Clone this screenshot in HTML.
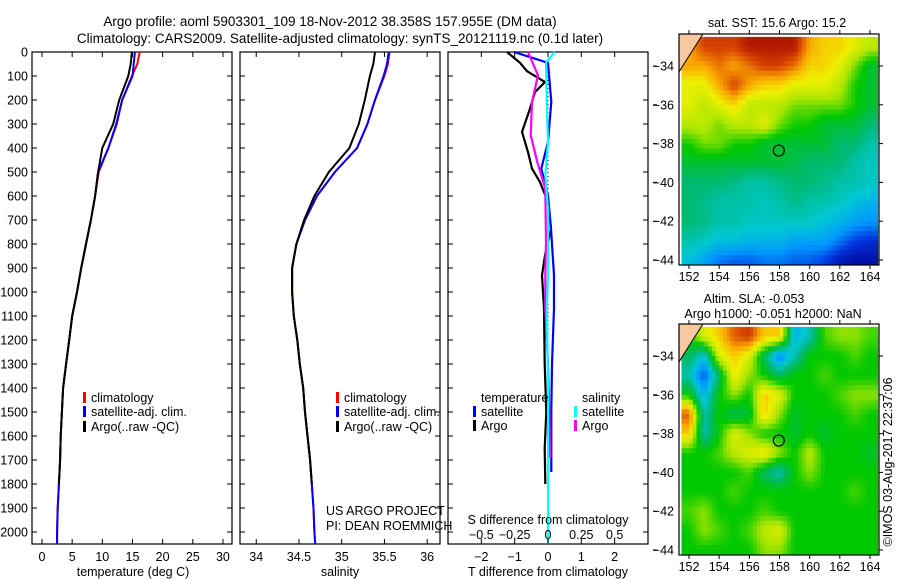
<!DOCTYPE html>
<html><head><meta charset="utf-8"><style>
body{margin:0;background:#fff}
svg{display:block;font-family:"Liberation Sans",sans-serif}
text{fill:#000}
</style></head><body>
<svg id="c" width="900" height="580" viewBox="0 0 900 580">
<text x="330" y="26" font-size="13.5" text-anchor="middle">Argo profile: aoml 5903301_109 18-Nov-2012 38.358S 157.955E (DM data)</text>
<text x="340" y="43" font-size="13.5" text-anchor="middle">Climatology: CARS2009. Satellite-adjusted climatology: synTS_20121119.nc (0.1d later)</text>
<g id="g"></g>
</svg>
<script>
// ---- profile data ----
const depthsT=[0,50,100,200,300,400,500,600,700,800,900,1000,1100,1200,1300,1400,1500,1600,1700,1800,1900,2000,2050];
const tempClim=[16.2,15.8,14.9,13.3,12.4,11.0,9.4,8.8,8.1,7.3,6.5,5.8,5.0,4.5,4.0,3.5,3.3,3.1,3.0,2.8,2.6,2.5,2.5];
const tempSat=[15.4,15.2,15.0,13.3,12.3,11.0,9.3,8.8,8.1,7.3,6.5,5.8,5.0,4.5,4.0,3.5,3.3,3.1,3.0,2.8,2.6,2.5,2.5];
const depthsArgo=[0,50,100,200,300,400,500,600,700,800,900,1000,1100,1200,1300,1400,1500,1600,1700,1800];
const tempArgo=[14.9,14.7,14.3,12.8,11.8,10.0,9.3,8.8,8.1,7.3,6.5,5.8,5.0,4.5,4.0,3.5,3.3,3.1,3.0,2.8];
const salClim=[35.56,35.54,35.5,35.39,35.3,35.18,34.92,34.71,34.57,34.47,34.42,34.42,34.44,34.48,34.51,34.55,34.57,34.6,34.63,34.65,34.67,34.68,34.69];
const salSat=[35.55,35.53,35.49,35.39,35.3,35.18,34.92,34.71,34.57,34.47,34.42,34.42,34.44,34.48,34.51,34.55,34.57,34.6,34.63,34.65,34.67,34.68,34.69];
const salArgo=[35.39,35.37,35.33,35.27,35.2,35.09,34.85,34.68,34.56,34.47,34.42,34.42,34.44,34.48,34.51,34.55,34.57,34.6,34.63,34.65];
// ---- difference data ----
const dDepthTA=[0,45,80,125,167,236,333,417,486,542,625,736,847,930,1069,1300,1500,1650,1800];
const dTArgo=[-1.23,-0.84,-0.63,-0.09,-0.39,-0.54,-0.78,-0.6,-0.48,-0.24,0,0.09,-0.09,-0.18,-0.12,-0.1,-0.05,-0.1,-0.08];
const dDepthTS=[0,45,80,208,375,486,597,736,930,1069,1300,1500,1750];
const dTSat=[-1.02,0,0.02,0.1,0,-0.2,0,0.09,0.18,0.18,0.12,0.1,0.1];
const dDepthSA=[0,97,208,347,458,569,792,930,1069,1300,1500,1690];
const dSArgo=[-0.15,-0.075,-0.12,-0.13,-0.08,-0.02,-0.015,-0.02,-0.02,0,0.01,0.015];
const dDepthSS=[0,45,236,375,514,653,930,1069,1400,1800,2050];
const dSSat=[0.05,-0.015,-0.008,0,-0.02,0,0,-0.008,0,0,0];
// ---- tick labels ----
const depthTicks=[0,100,200,300,400,500,600,700,800,900,1000,1100,1200,1300,1400,1500,1600,1700,1800,1900,2000];
const tempTicks=[0,5,10,15,20,25,30];
const salTicks=[34,34.5,35,35.5,36];
const tdTicks=[-2,-1,0,1,2];
const sdTicks=[-0.5,-0.25,0,0.25,0.5];
const lonTicks=[152,154,156,158,160,162,164];
const latTicks=[-34,-36,-38,-40,-42,-44];
// ---- map data (rows lat -33..-44, cols lon 152..164) ----
const mapLons=[152,153,154,155,156,157,158,159,160,161,162,163,164];
const mapLats=[-33,-34,-35,-36,-37,-38,-39,-40,-41,-42,-43,-44];
const sstGrid=[
[18,19,19,19,19.5,19.5,19.5,19.5,18,17.5,17.5,17,16.5],
[18,18,18.5,18,18.5,19,19,18.5,17.5,17.5,17,16,15],
[17,17,18,19,18,17.5,17.5,17,17,17,16.5,15.5,15],
[17,16.5,17,17.5,16.5,16.5,16.5,16,16,16,16,15.5,15],
[16.5,16.5,16,16.5,16.5,17,16,15.5,15.5,15,15,15,14.5],
[15.5,16,16,15.5,15.5,15,15,15,15,15,14.5,14.5,14],
[15,15,15,15,15,15,15,14.8,14.5,14.5,14.5,14,13.8],
[14.5,14.5,14.5,14.3,14,14,14.3,14.5,14.5,14.3,14,14,13.8],
[14.5,14.3,14,14,14,13.8,14,14.3,14,14,13.8,13.5,13.3],
[14.5,14.3,14,14,13.8,13.8,13.8,13.8,13.8,13.5,13.3,13,12.8],
[14,13.8,13.5,13.5,13.3,13.3,13.3,13,13,13,12.5,12,11.8],
[13.5,13,12.5,12.3,12.3,12.5,12.5,12.3,12.3,12,11.5,11.3,11.3]];
const slaGrid=[
[0,0.2,0.3,0.45,0.5,0.3,0.3,-0.3,-0.2,0.05,0.1,0.1,0.05],
[-0.1,-0.25,0.2,0.3,0.2,-0.1,-0.4,-0.2,0,0,0,0.05,0],
[-0.2,-0.45,-0.1,0.25,0.1,0,-0.1,0,0,0.05,0,0,0],
[0,-0.3,0,0.1,0,0.3,0.2,0,0,0,0.05,0.1,0.1],
[0.45,-0.2,0,-0.1,-0.05,0.3,0.1,-0.05,0,0,0,0.05,0],
[0.3,-0.2,0,0.2,0.1,0,0,-0.05,0,-0.05,0,0,0],
[0,0,0.05,0.15,0.2,0.25,0.1,0,0.15,0,0,0,-0.05],
[0,0,0,0,0.05,-0.1,-0.2,0,0.1,0,0,0,0],
[0,0,0,0.05,0,0,0,0,0,0,0,0.05,0],
[0.05,0.1,0,0,0,0.05,0,0,0,0,0,0,0],
[0,0.1,0.05,0,0.05,0.15,0.2,0,0,0,0,0,0],
[0,0,0,0,0,0.1,0.1,0,0,0,0,0,0]];
const argoLon=157.955, argoLat=-38.358;

const NS="http://www.w3.org/2000/svg";
const G=document.getElementById('g');
function mk(tag,at,parent){const e=document.createElementNS(NS,tag);for(const k in at)e.setAttribute(k,at[k]);(parent||G).appendChild(e);return e;}
function txt(x,y,s,anchor,size){const t=mk('text',{x:x,y:y,'font-size':size||12.5,'text-anchor':anchor||'middle'});t.textContent=s;return t;}

const PT=52,PB=544;
const yD=d=>PT+(d)*(PB-PT)/2050;
const panels=[{x0:32,x1:232},{x0:240,x1:440},{x0:448,x1:648}];
const xT=v=>32+(v+1.66)*(200/33.16);
const xS=v=>240+(v-33.81)*(200/2.34);
const xTd=v=>548+v*33.33;
const xSd=v=>548+v*133.3;

panels.forEach((p,i)=>{
  const r=mk('rect',{x:p.x0,y:PT,width:p.x1-p.x0,height:PB-PT,fill:'none',stroke:'#000','stroke-width':1.2});
  
  
  depthTicks.forEach(d=>{
    mk('line',{x1:p.x0,x2:p.x0+5,y1:yD(d),y2:yD(d),stroke:'#000'});
    mk('line',{x1:p.x1-5,x2:p.x1,y1:yD(d),y2:yD(d),stroke:'#000'});
  });
});
depthTicks.forEach(d=>{const t=txt(28,yD(d)+4.5,String(d),'end');});

function line(xs,ds,fx,col,name,w){
  const pts=xs.map((v,i)=>fx(v).toFixed(1)+','+yD(ds[i]).toFixed(1)).join(' ');
  const e=mk('polyline',{points:pts,fill:'none',stroke:col,'stroke-width':w||2});
  
  
}
line(tempClim,depthsT,xT,'#f00','temp-climatology-line');
line(tempSat,depthsT,xT,'#00f','temp-satellite-line');
line(tempArgo,depthsArgo,xT,'#000','temp-argo-line');
tempTicks.forEach(v=>{mk('line',{x1:xT(v),x2:xT(v),y1:PB,y2:PB-5,stroke:'#000'});mk('line',{x1:xT(v),x2:xT(v),y1:PT,y2:PT+5,stroke:'#000'});const t=txt(xT(v),561,String(v));});
txt(133,576,'temperature (deg C)');
line(salClim,depthsT,xS,'#f00','sal-climatology-line');
line(salSat,depthsT,xS,'#00f','sal-satellite-line');
line(salArgo,depthsArgo,xS,'#000','sal-argo-line');
salTicks.forEach(v=>{mk('line',{x1:xS(v),x2:xS(v),y1:PB,y2:PB-5,stroke:'#000'});mk('line',{x1:xS(v),x2:xS(v),y1:PT,y2:PT+5,stroke:'#000'});const t=txt(xS(v),561,String(v));});
txt(340,576,'salinity');
mk('line',{x1:548,x2:548,y1:PT,y2:PB,stroke:'#000','stroke-dasharray':'1,3'});
line(dTArgo,dDepthTA,xTd,'#000','tdiff-argo-line',2.2);
line(dTSat,dDepthTS,xTd,'#00f','tdiff-satellite-line',2.2);
line(dSArgo,dDepthSA,xSd,'#f0f','sdiff-argo-line',2.2);
line(dSSat,dDepthSS,xSd,'#0ff','sdiff-satellite-line',2.2);
tdTicks.forEach(v=>{mk('line',{x1:xTd(v),x2:xTd(v),y1:PB,y2:PB-5,stroke:'#000'});mk('line',{x1:xTd(v),x2:xTd(v),y1:PT,y2:PT+5,stroke:'#000'});const t=txt(xTd(v),561,String(v).replace('-','\u2212'));});
sdTicks.forEach(v=>{const t=txt(xSd(v),539,String(v).replace('-','\u2212'));});
txt(548,524,'S difference from climatology');
txt(548,576,'T difference from climatology');

function leg(x,y,col,s,name){mk('rect',{x:x,y:y-10,width:3,height:11,fill:col});const t=txt(x+8,y,s,'start');}
leg(83,402,'#f00','climatology','legend-climatology');
leg(83,416,'#00f','satellite-adj. clim.','legend-satellite');
leg(83,431,'#000','Argo(..raw -QC)','legend-argo');
leg(336,402,'#f00','climatology','legend2-climatology');
leg(336,416,'#00f','satellite-adj. clim.','legend2-satellite');
leg(336,431,'#000','Argo(..raw -QC)','legend2-argo');
txt(481,402,'temperature','start');
leg(473,416,'#00f','satellite','legend-tdiff-satellite');
leg(473,430,'#000','Argo','legend-tdiff-argo');
txt(582,402,'salinity','start');
leg(574,416,'#0ff','satellite','legend-sdiff-satellite');
leg(574,430,'#f0f','Argo','legend-sdiff-argo');
txt(326,515,'US ARGO PROJECT','start');
txt(326,530,'PI: DEAN ROEMMICH','start');

// colormap
const cmap=[[0,0,140],[0,50,220],[0,150,255],[0,200,210],[0,185,110],[0,200,0],[170,230,0],[240,240,0],[250,165,0],[215,70,0],[160,0,0]];
function col(t){t=Math.max(0,Math.min(1,t))*(cmap.length-1);const i=Math.min(cmap.length-2,Math.floor(t)),f=t-i;
  const c=cmap[i].map((v,k)=>Math.round(v+(cmap[i+1][k]-v)*f));return 'rgb('+c.join(',')+')';}
function samp(grid,r,c){
  r=Math.max(0,Math.min(grid.length-1,r));c=Math.max(0,Math.min(grid[0].length-1,c));
  const r0=Math.min(grid.length-2,Math.floor(r)),c0=Math.min(grid[0].length-2,Math.floor(c));
  const fr=r-r0,fc=c-c0;
  return grid[r0][c0]*(1-fr)*(1-fc)+grid[r0][c0+1]*(1-fr)*fc+grid[r0+1][c0]*fr*(1-fc)+grid[r0+1][c0+1]*fr*fc;}

function drawMap(y0,y1,grid,vmin,vmax,name){
  const X0=679,X1=879;
  const lonX=l=>689+(l-152)*(181/12);
  const latY=l=>y0+32+(-34-l)*((y1-y0-37)/10);
  const cid='clip'+name;
  const cp=mk('clipPath',{id:cid});mk('rect',{x:X0,y:y0,width:X1-X0,height:y1-y0},cp);
  const g=mk('g',{'clip-path':'url(#'+cid+')'});
  
  
  const dw=181/12,dh=(y1-y0-37)/10,S=4;
  grid.forEach((row,ri)=>row.forEach((v,ci)=>{
    const cx=lonX(mapLons[ci])-dw/2, cy=latY(mapLats[ri])-dh/2;
    for(let a=0;a<S;a++)for(let b=0;b<S;b++){
      const val=samp(grid,ri-0.5+(a+0.5)/S,ci-0.5+(b+0.5)/S);
      const c=mk('rect',{x:(cx+b*dw/S).toFixed(1),y:(cy+a*dh/S).toFixed(1),width:(dw/S+0.6).toFixed(1),height:(dh/S+0.6).toFixed(1),fill:col((val-vmin)/(vmax-vmin))},g);
      
    }
  }));
  mk('polygon',{points:`${X0},${y0} ${X0+24},${y0} ${X0},${y0+38}`,fill:'#f8c8a0'},g);
  mk('polyline',{points:`${X0},${y0+38} ${X0+10},${y0+22} ${X0+24},${y0}`,fill:'none',stroke:'#000'},g);
  mk('rect',{x:X0,y:y0,width:X1-X0,height:y1-y0,fill:'none',stroke:'#000','stroke-width':1.2});
  const ci=mk('circle',{cx:lonX(argoLon),cy:latY(argoLat),r:5.5,fill:'none',stroke:'#000','stroke-width':1.2});
  
  
  lonTicks.forEach(l=>{mk('line',{x1:lonX(l),x2:lonX(l),y1:y1,y2:y1+4,stroke:'#000'});mk('line',{x1:lonX(l),x2:lonX(l),y1:y0-4,y2:y0,stroke:'#000'});const t=txt(lonX(l),y1+16,String(l));});
  latTicks.forEach(l=>{mk('line',{x1:X1,x2:X1+4,y1:latY(l),y2:latY(l),stroke:'#000'});mk('line',{x1:653,x2:657,y1:latY(l),y2:latY(l),stroke:'#000'});const t=txt(674,latY(l)+4.5,String(l).replace('-','\u2212'),'end');});
}
drawMap(34,265,sstGrid,11,19.8,'sst-map');
drawMap(324,555,slaGrid,-0.6,0.6,'sla-map');
txt(777,27,'sat. SST: 15.6 Argo: 15.2');
txt(754,303,'Altim. SLA: -0.053');
txt(773,318,'Argo h1000: -0.051 h2000: NaN');
const r=txt(0,0,'\u00A9IMOS 03-Aug-2017 22:37:06');
r.setAttribute('transform','translate(892,462) rotate(-90)');


</script>
</body></html>
